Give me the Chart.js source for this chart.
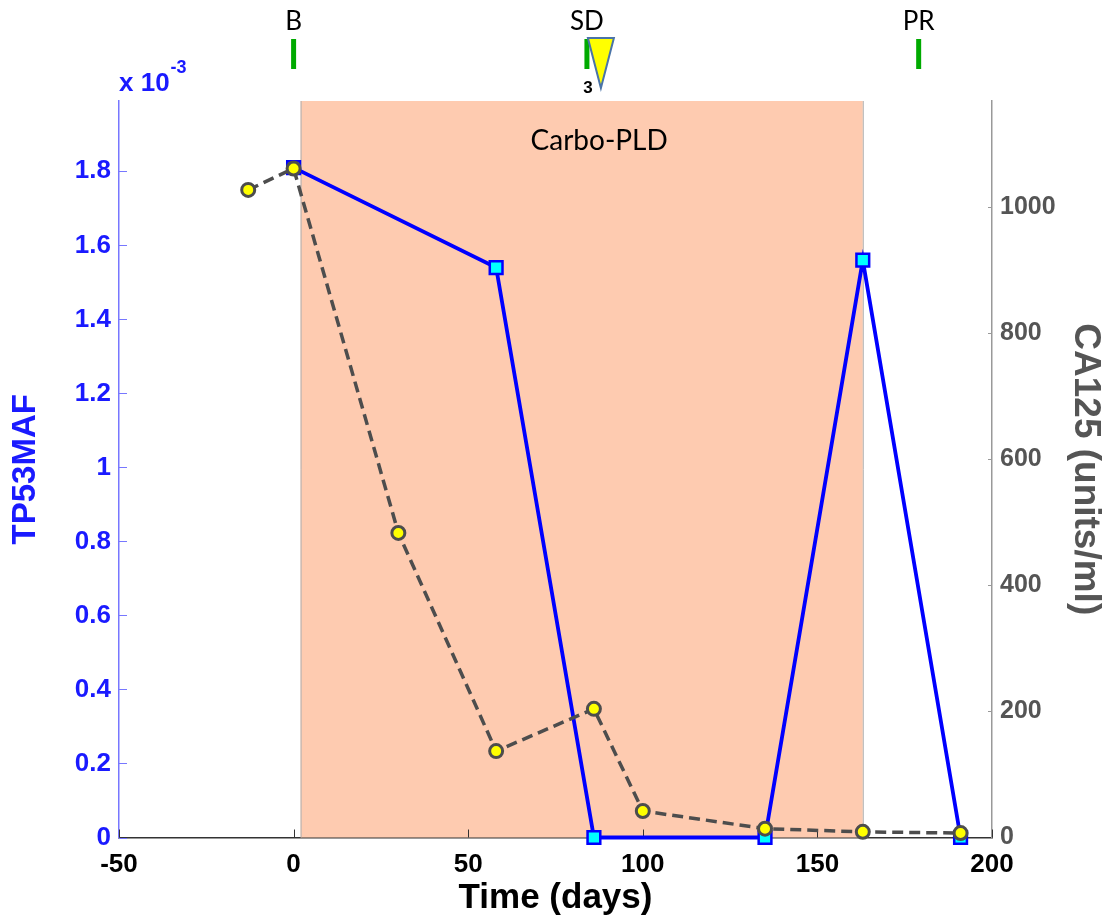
<!DOCTYPE html>
<html>
<head>
<meta charset="utf-8">
<script src="https://cdn.jsdelivr.net/npm/chart.js@4"></script>
<style>
  body { margin: 0; background: #fff; }
</style>
</head>
<body>
<canvas id="myChart" width="1113" height="921"></canvas>
<script>
// TP53 mutant allele fraction (x 10^-3) on left axis
const tpDays = [0, 58, 86, 135, 163, 191];
const tpValues = [1.81, 1.54, 0, 0, 1.56, 0];

// CA125 (units/ml) on right axis
const caDays = [-13, 0, 30, 58, 86, 100, 135, 163, 191];
const caValues = [1027, 1061, 483, 137, 204, 42, 14, 9, 7];

const xTicks = [-50, 0, 50, 100, 150, 200];
const leftTicks = [0, 0.2, 0.4, 0.6, 0.8, 1, 1.2, 1.4, 1.6, 1.8];
const rightTicks = [0, 200, 400, 600, 800, 1000];

// treatment window and response marks
const treatStart = 2;
const treatEnd = 163;
const treatName = 'Carbo-PLD';
const markDays = [0, 84, 179];
const markNames = ['B', 'SD', 'PR'];
const doseDay = 88;
const doseLabel = '3';

const boldFont = '"Liberation Sans", Arial, sans-serif';

const overlay = {
    id: 'overlay',
    beforeDatasetsDraw(chart) {
        const ctx = chart.ctx;
        const x = chart.scales.x;
        const a = chart.chartArea;
        const x0 = x.getPixelForValue(treatStart);
        const x1 = x.getPixelForValue(treatEnd);
        ctx.save();
        ctx.fillStyle = '#fecbb0';
        ctx.fillRect(x0, a.top, x1 - x0, a.bottom - a.top);
        ctx.strokeStyle = '#b0b0b0';
        ctx.lineWidth = 1;
        ctx.beginPath();
        ctx.moveTo(x0 + 0.5, a.top); ctx.lineTo(x0 + 0.5, a.bottom);
        ctx.moveTo(x1 + 0.5, a.top); ctx.lineTo(x1 + 0.5, a.bottom);
        ctx.stroke();
        ctx.fillStyle = '#000';
        ctx.font = '28px Lato, "Open Sans", sans-serif';
        ctx.textAlign = 'center';
        ctx.textBaseline = 'middle';
        ctx.fillText(treatName, x.getPixelForValue(87.5), 141);

        // inward tick marks
        const yl = chart.scales.y, yr = chart.scales.y2;
        ctx.lineWidth = 1;
        ctx.strokeStyle = '#7777ff';
        ctx.beginPath();
        leftTicks.forEach(v => {
            const py = Math.round(yl.getPixelForValue(v)) + 0.5;
            ctx.moveTo(a.left, py); ctx.lineTo(a.left + 8, py);
        });
        ctx.stroke();
        ctx.strokeStyle = '#999';
        ctx.beginPath();
        rightTicks.forEach(v => {
            const py = Math.round(yr.getPixelForValue(v)) + 0.5;
            ctx.moveTo(a.right, py); ctx.lineTo(a.right - 4, py);
        });
        ctx.stroke();
        ctx.strokeStyle = '#333';
        ctx.beginPath();
        xTicks.forEach(v => {
            const px = Math.round(x.getPixelForValue(v)) + 0.5;
            ctx.moveTo(px, a.bottom); ctx.lineTo(px, a.bottom - 8);
        });
        ctx.stroke();
        ctx.restore();
    },
    afterDraw(chart) {
        const ctx = chart.ctx;
        const x = chart.scales.x;
        ctx.save();
        ctx.textAlign = 'center';
        ctx.textBaseline = 'middle';
        markDays.forEach((d, i) => {
            const px = x.getPixelForValue(d);
            ctx.fillStyle = '#00aa00';
            ctx.fillRect(px - 2.5, 39, 5, 30);
            ctx.fillStyle = '#000';
            ctx.font = '26px Lato, "Open Sans", sans-serif';
            ctx.fillText(markNames[i], px, 22);
        });
        // dose triangle
        const tx = x.getPixelForValue(doseDay);
        ctx.beginPath();
        ctx.moveTo(tx - 13, 38);
        ctx.lineTo(tx + 13, 38);
        ctx.lineTo(tx, 88);
        ctx.closePath();
        ctx.fillStyle = '#ffff00';
        ctx.fill();
        ctx.strokeStyle = '#4a74a8';
        ctx.lineWidth = 2;
        ctx.stroke();
        ctx.fillStyle = '#000';
        ctx.font = 'bold 17px ' + boldFont;
        ctx.fillText(doseLabel, x.getPixelForValue(markDays[1]) + 1, 88);

        // x 10^-3 multiplier
        ctx.fillStyle = '#1a1aff';
        ctx.textAlign = 'left';
        ctx.font = 'bold 26px ' + boldFont;
        ctx.fillText('x 10', 119, 84);
        const w = ctx.measureText('x 10').width;
        ctx.font = 'bold 18px ' + boldFont;
        ctx.fillText('-3', 119 + w + 1, 68);
        ctx.restore();
    }
};

const ctx = document.getElementById('myChart').getContext('2d');
const myChart = new Chart(ctx, {
    type: 'line',
    data: {
        datasets: [{
            label: 'CA125',
            data: caDays.map((d, i) => ({ x: d, y: caValues[i] })),
            yAxisID: 'y2',
            borderColor: '#4d4d4d',
            borderWidth: 3.5,
            borderDash: [11, 6],
            pointStyle: 'circle',
            pointRadius: 6.5,
            pointBackgroundColor: '#ffff00',
            pointBorderColor: '#4d4d4d',
            pointBorderWidth: 3,
            order: 0,
            clip: false
        }, {
            label: 'TP53MAF',
            data: tpDays.map((d, i) => ({ x: d, y: tpValues[i] })),
            yAxisID: 'y',
            borderColor: '#0000ff',
            borderWidth: 3.8,
            pointStyle: 'rect',
            pointRadius: 9,
            pointBackgroundColor: '#00ffff',
            pointBorderColor: '#0000ff',
            pointBorderWidth: 2.5,
            order: 1,
            clip: false
        }]
    },
    options: {
        responsive: false,
        animation: false,
        layout: { padding: { top: 101, left: 0, right: 0, bottom: 0 } },
        plugins: {
            legend: { display: false },
            tooltip: { enabled: false }
        },
        scales: {
            x: {
                type: 'linear',
                min: -50,
                max: 200,
                afterBuildTicks: (axis) => { axis.ticks = xTicks.map(v => ({ value: v })); },
                afterFit: (axis) => { axis.height = 83.5; },
                grid: { display: false, drawTicks: false },
                border: { display: true, color: '#333', width: 1.5 },
                ticks: {
                    color: '#000',
                    padding: 12,
                    maxRotation: 0,
                    font: { family: boldFont, size: 26, weight: 'bold' }
                },
                title: {
                    display: true,
                    text: 'Time (days)',
                    color: '#000',
                    padding: { top: 0, bottom: 2 },
                    font: { family: boldFont, size: 35, weight: 'bold' }
                }
            },
            y: {
                position: 'left',
                min: 0,
                max: 1.99,
                afterBuildTicks: (axis) => { axis.ticks = leftTicks.map(v => ({ value: v })); },
                afterFit: (axis) => { axis.width = 119; },
                grid: { display: false, drawTicks: false },
                border: { display: true, color: '#7777ff', width: 1.5 },
                ticks: {
                    color: '#1a1aff',
                    padding: 8,
                    font: { family: boldFont, size: 26, weight: 'bold' },
                    callback: (v) => String(Number(v.toFixed(1)))
                },
                title: {
                    display: true,
                    text: 'TP53MAF',
                    color: '#1a1aff',
                    padding: { top: 6, bottom: 8 },
                    font: { family: boldFont, size: 33, weight: 'bold' }
                }
            },
            y2: {
                position: 'right',
                min: 0,
                max: 1168,
                afterBuildTicks: (axis) => { axis.ticks = rightTicks.map(v => ({ value: v })); },
                afterFit: (axis) => { axis.width = 121; },
                grid: { display: false, drawTicks: false },
                border: { display: true, color: '#999', width: 1.5 },
                ticks: {
                    color: '#555',
                    padding: 8,
                    font: { family: boldFont, size: 25, weight: 'bold' },
                    callback: (v) => String(v)
                },
                title: {
                    display: true,
                    text: 'CA125 (units/ml)',
                    color: '#555',
                    padding: { top: 6 },
                    font: { family: boldFont, size: 37, weight: 'bold' }
                }
            }
        }
    },
    plugins: [overlay]
});
</script>
</body>
</html>
